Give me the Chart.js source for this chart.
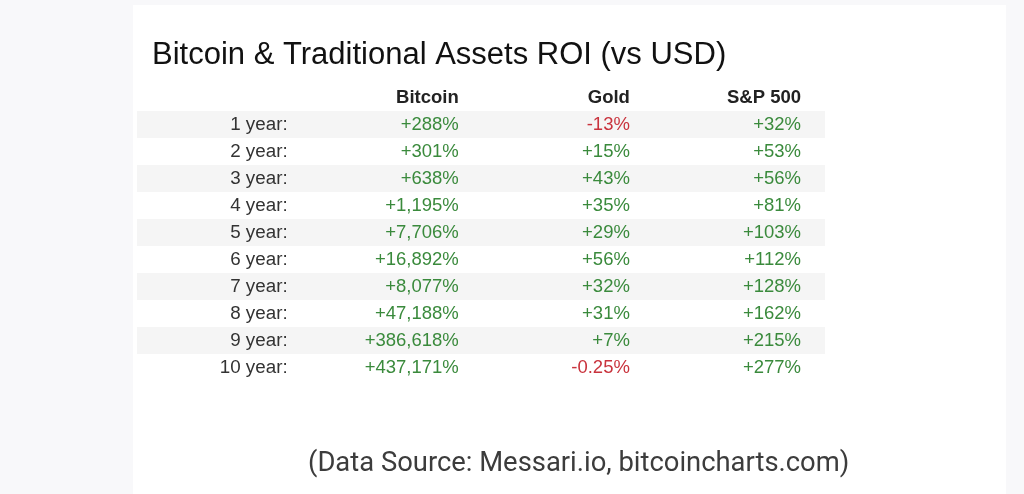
<!DOCTYPE html>
<html>
<head>
<meta charset="utf-8">
<script src="https://cdn.jsdelivr.net/npm/chart.js@4"></script>
<style>
  html, body { margin: 0; padding: 0; background: #f8f8fa; }
  #panel { position: absolute; left: 133px; top: 5px; width: 873px; height: 489px; background: #fff; }
  #box { position: absolute; left: 0; top: 0; width: 1024px; height: 494px; }
</style>
</head>
<body>
<div id="panel"></div>
<div id="box"><canvas id="chart"></canvas></div>
<script>
const rows = ['1 year:', '2 year:', '3 year:', '4 year:', '5 year:', '6 year:', '7 year:', '8 year:', '9 year:', '10 year:'];
const columns = ['Bitcoin', 'Gold', 'S&P 500'];
const bitcoin = [288, 301, 638, 1195, 7706, 16892, 8077, 47188, 386618, 437171];
const gold = [-13, 15, 43, 35, 29, 56, 32, 31, 7, -0.25];
const sp500 = [32, 53, 56, 81, 103, 112, 128, 162, 215, 277];
const title = 'Bitcoin & Traditional Assets ROI (vs USD)';
const source = '(Data Source: Messari.io, bitcoincharts.com)';

const series = [bitcoin, gold, sp500];
const fmt = v => (v < 0 ? '-' : '+') + Math.abs(v).toLocaleString('en-US') + '%';

// one invisible point per cell, the text is painted on it
const cellSets = series.map((vals, c) => ({
    type: 'scatter',
    label: columns[c],
    data: vals.map((v, r) => ({ x: c + 1, y: rows[r] })),
    pointRadius: 0,
    values: vals
}));

const tablePlugin = {
    id: 'table',
    beforeDatasetsDraw(chart) {
        const { ctx, chartArea, scales: { x, y } } = chart;
        const h = y.getPixelForValue(1) - y.getPixelForValue(0);
        ctx.save();
        ctx.fillStyle = '#f5f5f5';
        rows.forEach((r, i) => {
            if (i % 2 === 0) {
                const py = y.getPixelForValue(i);
                ctx.fillRect(chartArea.left, py - h / 2, chartArea.right - chartArea.left, h);
            }
        });
        ctx.restore();
    },
    afterDatasetsDraw(chart) {
        const { ctx, scales: { x, y } } = chart;
        const h = y.getPixelForValue(1) - y.getPixelForValue(0);
        ctx.save();
        ctx.textBaseline = 'middle';
        ctx.textAlign = 'right';
        // row labels
        ctx.font = '18.8px "Liberation Sans", Arial, sans-serif';
        ctx.fillStyle = '#333';
        rows.forEach((r, i) => ctx.fillText(r, x.getPixelForValue(0), y.getPixelForValue(i)));
        // header
        ctx.font = 'bold 18.5px "Liberation Sans", Arial, sans-serif';
        ctx.fillStyle = '#222';
        columns.forEach((c, i) => ctx.fillText(c, x.getPixelForValue(i + 1), y.getPixelForValue(0) - h));
        // cells
        ctx.font = '18.5px "Liberation Sans", Arial, sans-serif';
        chart.data.datasets.forEach((ds, d) => {
            const meta = chart.getDatasetMeta(d);
            meta.data.forEach((pt, i) => {
                const v = ds.values[i];
                ctx.fillStyle = v < 0 ? '#c9333d' : '#3a8a3c';
                ctx.fillText(fmt(v), pt.x, pt.y);
            });
        });
        // title and source
        ctx.textAlign = 'left';
        ctx.fillStyle = '#111';
        ctx.font = '31px "Liberation Sans", Arial, sans-serif';
        ctx.fillText(title, 152, 55);
        ctx.fillStyle = '#3c3c3c';
        ctx.font = '27.4px Roboto, "Noto Sans", sans-serif';
        ctx.fillText(source, 308, 464);
        ctx.restore();
    }
};

const myChart = new Chart(document.getElementById('chart').getContext('2d'), {
    type: 'scatter',
    data: { labels: rows, datasets: cellSets },
    options: {
        responsive: true,
        maintainAspectRatio: false,
        animation: false,
        layout: { padding: { left: 137, right: 199, top: 111, bottom: 113 } },
        plugins: { legend: { display: false }, tooltip: { enabled: false } },
        scales: {
            x: { type: 'linear', min: -0.88, max: 3.14, display: false },
            y: { type: 'category', labels: rows, offset: true, display: false, grid: { display: false } }
        }
    },
    plugins: [tablePlugin]
});
</script>
</body>
</html>
